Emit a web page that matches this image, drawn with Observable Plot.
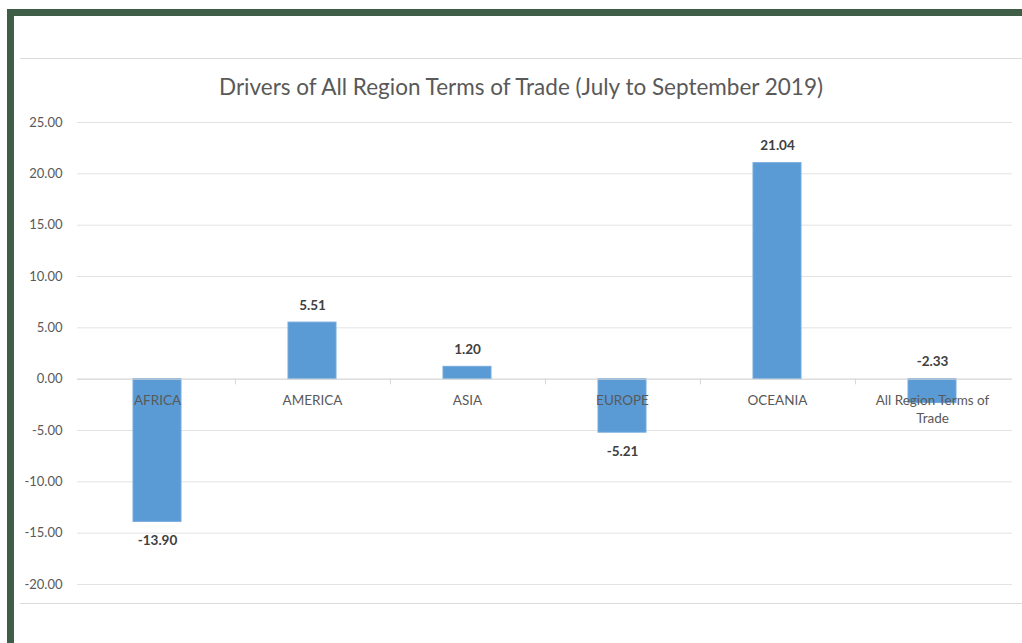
<!DOCTYPE html>
<html>
<head>
<meta charset="utf-8">
<script src="https://cdn.jsdelivr.net/npm/d3@7"></script>
<script src="https://cdn.jsdelivr.net/npm/@observablehq/plot@0.6"></script>
<style>
  html, body { margin: 0; padding: 0; background: #fff; }
  #page { position: relative; width: 1022px; height: 643px; overflow: hidden; background: #fff; font-family: Lato, "Open Sans", sans-serif; }
  .border-top { position: absolute; left: 7px; top: 9px; width: 1015px; height: 7px; background: #3e5e48; }
  .border-left { position: absolute; left: 7px; top: 9px; width: 7px; height: 634px; background: #3e5e48; }
  .hline { position: absolute; left: 20px; width: 1002px; height: 1px; background: #dcdcdc; }
  #title { position: absolute; left: 0; width: 1042px; top: 73px; text-align: center; font-size: 22.5px; color: #595959; }
  #chart { position: absolute; left: 0; top: 0; }
</style>
</head>
<body>
<div id="page">
  <div class="border-top"></div>
  <div class="border-left"></div>
  <div class="hline" style="top:58px"></div>
  <div class="hline" style="top:603px"></div>
  <div id="title">Drivers of All Region Terms of Trade (July to September 2019)</div>
  <div id="chart"></div>
</div>
<script>
const categories = ["AFRICA", "AMERICA", "ASIA", "EUROPE", "OCEANIA", "All Region Terms of Trade"];
const categoryLabels = ["AFRICA", "AMERICA", "ASIA", "EUROPE", "OCEANIA", "All Region Terms of\nTrade"];
const values = [-13.90, 5.51, 1.20, -5.21, 21.04, -2.33];
const yTicks = [25, 20, 15, 10, 5, 0, -5, -10, -15, -20];
const totalCategory = "All Region Terms of Trade";

const data = categories.map((c, i) => ({category: c, label: categoryLabels[i], value: values[i]}));
const fmt = d => d.toFixed(2);
const step = (1012 - 77) / categories.length;
const above = data.filter(d => d.value >= 0 || d.category === totalCategory);
const below = data.filter(d => !(d.value >= 0 || d.category === totalCategory));

const chart = Plot.plot({
  width: 1022,
  height: 643,
  marginTop: 122,
  marginBottom: 59,
  marginLeft: 77,
  marginRight: 10,
  style: {fontFamily: "Lato, 'Open Sans', sans-serif", background: "transparent"},
  x: {domain: categories, paddingInner: 0.69, paddingOuter: 0.345, axis: null},
  y: {domain: [-20, 25], axis: null},
  marks: [
    Plot.gridY(yTicks, {stroke: "#e3e3e3", strokeOpacity: 1}),
    Plot.axisY(yTicks, {tickSize: 0, tickPadding: 15, tickFormat: fmt, fontSize: 13, fill: "#595959", label: null}),
    Plot.barY(data, {x: "category", y: "value", fill: "#5b9bd5", stroke: "#74a9db", strokeWidth: 1}),
    Plot.ruleY([0], {stroke: "#d6d6d6"}),
    Plot.ruleX(categories.slice(0, categories.length - 1), {x: d => d, y1: 0, y2: -0.55, dx: step / 2, stroke: "#d6d6d6"}),
    Plot.text(data, {x: "category", y: 0, text: "label", dy: 12, lineAnchor: "top", lineHeight: 1.4, fontSize: 13.5, fill: "#595959"}),
    Plot.text(above, {
      x: "category",
      y: d => d.category === totalCategory ? 0 : d.value,
      text: d => fmt(d.value),
      dy: -17,
      fontSize: 13.5, fontWeight: "bold", fill: "#404040"
    }),
    Plot.text(below, {
      x: "category",
      y: "value",
      text: d => fmt(d.value),
      dy: 19,
      fontSize: 13.5, fontWeight: "bold", fill: "#404040"
    })
  ]
});
document.getElementById("chart").appendChild(chart);
</script>
</body>
</html>
